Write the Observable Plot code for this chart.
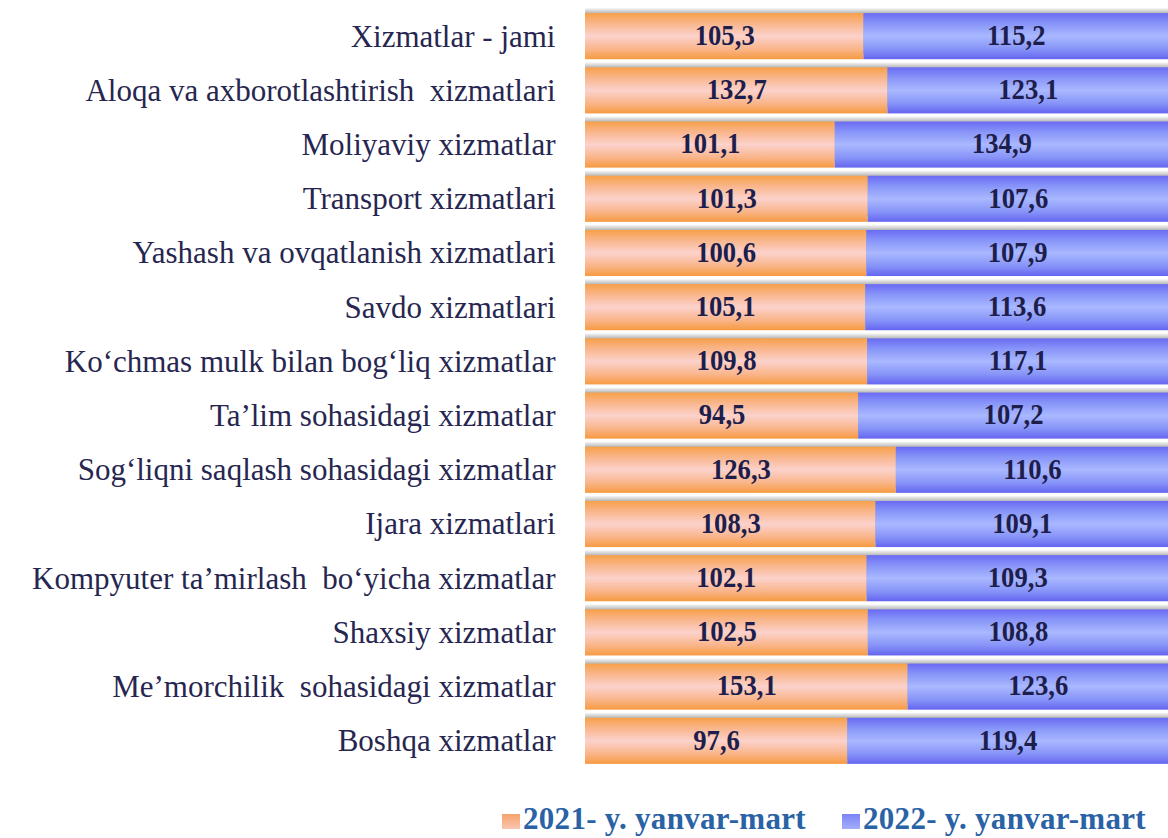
<!DOCTYPE html>
<html>
<head>
<meta charset="utf-8">
<script src="https://cdn.jsdelivr.net/npm/d3@7"></script>
<script src="https://cdn.jsdelivr.net/npm/@observablehq/plot@0.6"></script>
<style>
  html, body { margin: 0; padding: 0; background: #fff; }
  #wrap { width: 1168px; height: 838px; position: relative; overflow: hidden; }
  #legend { position: absolute; left: 0; top: 790px; width: 1168px; height: 48px;
    font-family: "Liberation Serif", "Times New Roman", Times, "DejaVu Serif", serif; font-weight: bold; font-size: 31px; color: #2a62a6; }
  .item { position: absolute; top: 11px; white-space: nowrap; letter-spacing: 0.3px; }
  .sw { display: inline-block; width: 18px; height: 15px; margin-right: 3px; vertical-align: baseline; }
  svg text { font-family: "Liberation Serif", "Times New Roman", Times, "DejaVu Serif", serif; }
</style>
</head>
<body>
<div id="wrap">
  <div id="chart"></div>
  <div id="legend"></div>
</div>
<script>
const categories = [
  "Xizmatlar - jami",
  "Aloqa va axborotlashtirish  xizmatlari",
  "Moliyaviy xizmatlar",
  "Transport xizmatlari",
  "Yashash va ovqatlanish xizmatlari",
  "Savdo xizmatlari",
  "Ko‘chmas mulk bilan bog‘liq xizmatlar",
  "Ta’lim sohasidagi xizmatlar",
  "Sog‘liqni saqlash sohasidagi xizmatlar",
  "Ijara xizmatlari",
  "Kompyuter ta’mirlash  bo‘yicha xizmatlar",
  "Shaxsiy xizmatlar",
  "Me’morchilik  sohasidagi xizmatlar",
  "Boshqa xizmatlar"
];
const v2021 = [105.3, 132.7, 101.1, 101.3, 100.6, 105.1, 109.8, 94.5, 126.3, 108.3, 102.1, 102.5, 153.1, 97.6];
const v2022 = [115.2, 123.1, 134.9, 107.6, 107.9, 113.6, 117.1, 107.2, 110.6, 109.1, 109.3, 108.8, 123.6, 119.4];
const seriesNames = ["2021- y. yanvar-mart", "2022- y. yanvar-mart"];

const rows = [];
categories.forEach((c, i) => {
  rows.push({cat: c, series: seriesNames[0], value: v2021[i]});
  rows.push({cat: c, series: seriesNames[1], value: v2022[i]});
});

const NS = "http://www.w3.org/2000/svg";
function defsMark() {
  const defs = document.createElementNS(NS, "defs");
  const mk = (id, stops) => {
    const g = document.createElementNS(NS, "linearGradient");
    g.setAttribute("id", id);
    g.setAttribute("x1", "0"); g.setAttribute("y1", "0");
    g.setAttribute("x2", "0"); g.setAttribute("y2", "1");
    stops.forEach(([o, c]) => {
      const s = document.createElementNS(NS, "stop");
      s.setAttribute("offset", o); s.setAttribute("stop-color", c);
      g.appendChild(s);
    });
    defs.appendChild(g);
  };
  mk("gOrange", [[0, "#f7a048"], [0.22, "#f9b58a"], [0.5, "#fcd2cc"], [0.78, "#f9b58a"], [1, "#f79a40"]]);
  mk("gBlue", [[0, "#6a6af4"], [0.22, "#8794f8"], [0.5, "#a9b8ff"], [0.78, "#8794f8"], [1, "#6565f0"]]);
  mk("gShadow", [[0, "#f6f6f6"], [0.06, "#d4d4d4"], [0.13, "#ababab"], [1, "#ababab"]]);
  return defs;
}

const fillFor = s => s === seriesNames[0] ? "url(#gOrange)" : "url(#gBlue)";
const fmt = v => v.toFixed(1).replace(".", ",");

const plot = Plot.plot({
  width: 1168,
  height: 790,
  marginLeft: 585,
  marginRight: 0,
  marginTop: 5,
  marginBottom: 18,
  x: {axis: null, domain: [0, 1]},
  y: {axis: null, domain: categories, padding: 0.15, round: false},
  marks: [
    defsMark,
    Plot.barX(categories, {x1: 0, x2: 1, y: d => d, fill: "url(#gShadow)", dy: -5}),
    Plot.barX(rows, Plot.stackX({offset: "normalize", x: "value", y: "cat", fill: d => fillFor(d.series), order: null})),
    Plot.text(rows, Plot.stackX({offset: "normalize", x: "value", y: "cat", order: null,
      text: d => fmt(d.value), fontSize: 29, fontWeight: "bold", fill: "#1e1e4c",
      className: "vals", dy: -1})),
    Plot.text(categories, {y: d => d, text: d => d, frameAnchor: "left", textAnchor: "end", dx: -30,
      fontSize: 31, fill: "#262650", className: "cats", dy: 0})
  ]
});
document.getElementById("chart").appendChild(plot);

// condense value labels horizontally (keep Plot's own y offset attribute)
plot.querySelectorAll(".vals text").forEach(el => {
  const t = el.getAttribute("transform") || "";
  const xa = el.getAttribute("x");
  const x = xa != null && !isNaN(+xa) ? +xa : 0;
  if (xa != null) el.removeAttribute("x");
  el.setAttribute("transform", `${t} translate(${x},0) scale(0.92,1)`);
});
plot.querySelectorAll(".cats text").forEach(el => el.setAttribute("style", "white-space: pre"));

const legend = document.getElementById("legend");
const swColors = ["linear-gradient(#f6a36a, #f9c4b0)", "linear-gradient(#7c84f4, #a3adfb)"];
const lefts = [502, 842];
seriesNames.forEach((n, i) => {
  const it = document.createElement("div");
  it.className = "item";
  it.style.left = lefts[i] + "px";
  const sw = document.createElement("span");
  sw.className = "sw";
  sw.style.background = swColors[i];
  it.appendChild(sw);
  it.appendChild(document.createTextNode(n));
  legend.appendChild(it);
});
</script>
</body>
</html>
